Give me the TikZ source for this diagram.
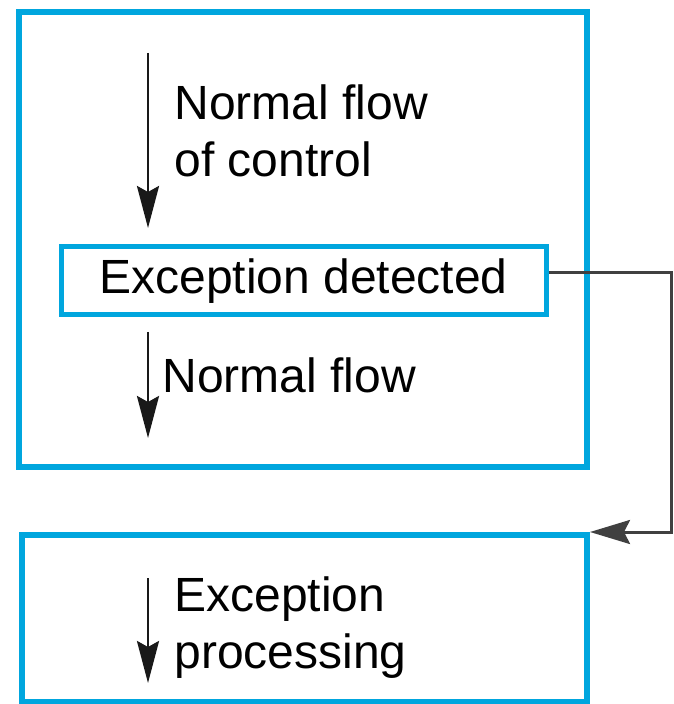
\documentclass[tikz,border=0pt]{standalone}
\usepackage{fontspec}
\setmainfont{Liberation Sans}
\usepackage{xcolor}
\usetikzlibrary{positioning, arrows.meta}
\definecolor{boxblue}{RGB}{0,166,222}
\definecolor{linegray}{RGB}{64,64,64}

\begin{document}
\begin{tikzpicture}[
    x=0.5pt, y=-0.5pt,
    box_style/.style={draw=boxblue, rectangle, inner sep=0pt},
    flow_style/.style={line width=1.4pt, black!90, -{Stealth[length=21pt, width=11pt, inset=3pt]}},
    link_style/.style={line width=1.5pt, linegray, -{Stealth[length=20pt, width=12pt, inset=3pt]}},
    text_style/.style={font=\fontsize{24}{28.5}\selectfont, align=left, inner sep=0pt}
]
    \useasboundingbox (0,0) rectangle (673,704);

    % Boxes
    \node[box_style, line width=3pt, minimum width=284pt, minimum height=227.5pt] (program) at (303,239.5) {};
    \node[box_style, line width=2.5pt, minimum width=242.5pt, minimum height=34pt,
          font=\fontsize{24}{28.5}\selectfont] (detect) at (303.5,281) {Exception detected};
    \node[box_style, line width=3pt, minimum width=282.5pt, minimum height=83.5pt] (handler) at (304.5,618.5) {};

    % Flow arrows
    \coordinate (f1) at (148,53);
    \coordinate (f2) at (148,228);
    \coordinate (f3) at (148,332);
    \coordinate (f4) at (148,438);
    \coordinate (f5) at (148,578);
    \coordinate (f6) at (148,683);
    \draw[flow_style] (f1) -- (f2);
    \draw[flow_style] (f3) -- (f4);
    \draw[flow_style] (f5) -- (f6);

    % Labels (base = last line)
    \node[text_style, anchor=base west] (normal) at (174,177) {Normal flow\\of control};
    \node[text_style, anchor=base west] (rest) at (162,392) {Normal flow};
    \node[text_style, anchor=base west] (process) at (174,668) {Exception\\processing};

    % Exception link
    \coordinate (out) at ([yshift=4pt]detect.east);
    \coordinate (bend) at (671,0);
    \draw[link_style] (out) -- (out -| bend) |- (handler.north east);
\end{tikzpicture}
\end{document}
